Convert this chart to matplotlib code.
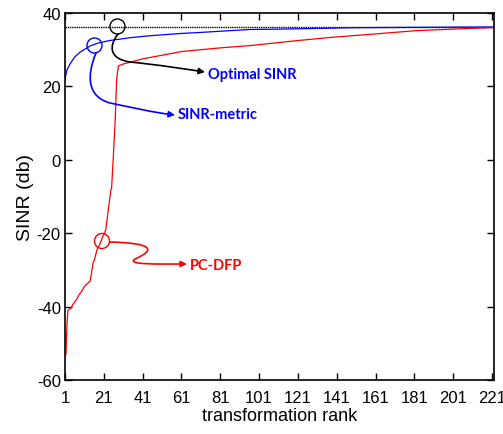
import numpy as np
import matplotlib
matplotlib.use('Agg')
import matplotlib.pyplot as plt
from matplotlib.path import Path
from matplotlib.patches import FancyArrowPatch, Ellipse

plt.rcParams['axes.unicode_minus'] = False

# data
optimal_sinr = 36.2
blue_rank = [1, 2, 3.6, 6, 8.7, 13.9, 18, 24, 35, 44.8, 60, 70.6, 96, 110, 132, 150, 222]
blue_sinr = [22, 24.5, 26.1, 28, 29.3, 31, 31.8, 32.5, 33.3, 33.8, 34.4, 34.7, 35.5, 35.6, 35.8, 36, 36.2]
red_rank = [1, 1.5, 2, 2.5, 4, 5, 7, 8, 10, 11, 13, 14, 15.5, 16, 17.5, 19, 20, 21.5, 22,
            24.7, 25, 26, 26.8, 27.6, 28.5, 31, 41, 61, 81, 96, 121, 139, 161, 182, 201, 210, 221, 222]
red_sinr = [-53, -53, -45, -41, -40.5, -39.5, -38, -37, -35.5, -34.5, -33.5, -33, -28, -27.5, -24.5, -23, -21.5, -19.8, -19,
            -8, -7.8, 2, 10, 22, 25.6, 26.1, 27.5, 29.5, 30.5, 31.1, 32.5, 33.4, 34.3, 35.2, 35.6, 35.8, 36, 36]
xticks = list(range(1, 222, 20))
yticks = [-60, -40, -20, 0, 20, 40]

W, H = 503, 435
fig = plt.figure(figsize=(W / 100, H / 100), dpi=100)
ax = fig.add_axes([65 / W, 1 - 381 / H, 429 / W, 367 / H])

ax.plot([1, 222], [optimal_sinr, optimal_sinr], color='black', linestyle=(0, (1, 0.6)), lw=1)
ax.plot(blue_rank, blue_sinr, color='blue', lw=0.9)
ax.plot(red_rank, red_sinr, color='red', lw=0.9)

ax.set_xlim(1, 222)
ax.set_ylim(-60, 40)
ax.set_xticks(xticks)
ax.set_yticks(yticks)
ax.tick_params(direction='in', top=True, right=True, length=5, width=1, labelsize=12)
ax.tick_params(axis='x', pad=7)
ax.tick_params(axis='y', pad=3)
for lab in ax.get_xticklabels():
    lab.set_family(['Liberation Sans Narrow', 'Liberation Sans'])
for lab in ax.get_yticklabels():
    lab.set_family('Liberation Sans')
for s in ax.spines.values():
    s.set_linewidth(1.2)
ax.set_xlabel('transformation rank', fontsize=13, family='Liberation Sans', va='top')
ax.xaxis.set_label_coords(0.501, -0.073)
ax.set_ylabel('SINR (db)', fontsize=14, family='Liberation Sans', va='center')
ax.yaxis.set_label_coords(-0.093, 0.5)

# annotations in pixel coords of the figure
def px(x, y):
    return (x / W, 1 - y / H)

tf = fig.transFigure

def circle(x, y, col):
    e = Ellipse(px(x, y), 15 / W, 15 / H, transform=tf, fill=False, edgecolor=col, lw=1)
    fig.add_artist(e)

def curve(pts, col):
    verts = [px(*p) for p in pts]
    codes = [Path.MOVETO] + [Path.CURVE4] * (len(verts) - 1)
    a = FancyArrowPatch(path=Path(verts, codes), transform=tf, arrowstyle='-|>',
                        mutation_scale=9, color=col, lw=1.2)
    fig.add_artist(a)

circle(117.5, 27.5, 'black')
curve([(118, 35), (108, 48), (110, 60), (130, 63), (160, 66), (185, 70), (205, 73)], 'black')
circle(94.5, 46.5, 'blue')
curve([(96, 54), (86, 78), (88, 98), (110, 104), (135, 109), (150, 113), (175, 116)], 'blue')
circle(102, 242, 'red')
curve([(110, 243), (150, 244), (158, 250), (135, 260), (125, 266), (160, 265), (187, 265)], 'red')

fig.text(208 / W, 1 - 75 / H, 'Optimal SINR', color='blue', fontsize=10.5, fontweight='bold',
         family='Lato', va='center')
fig.text(178 / W, 1 - 115 / H, 'SINR-metric', color='blue', fontsize=10.5, fontweight='bold',
         family='Lato', va='center')
fig.text(190 / W, 1 - 266 / H, 'PC-DFP', color='red', fontsize=10.5, fontweight='bold',
         family='Lato', va='center')

fig.savefig('out.png', dpi=100)
